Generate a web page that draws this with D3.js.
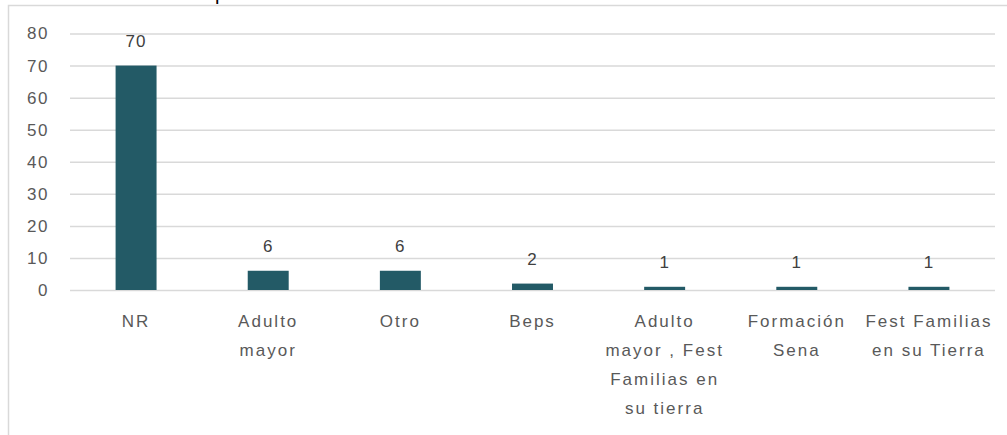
<!DOCTYPE html>
<html>
<head>
<meta charset="utf-8">
<script src="https://cdn.jsdelivr.net/npm/d3@7"></script>
<style>
    body { margin: 0; background: #ffffff; }
    svg { display: block; }
</style>
</head>
<body>
<svg id="drawing_region"></svg>
<script>
const categories = ['NR', 'Adulto mayor', 'Otro', 'Beps', 'Adulto mayor , Fest Familias en su tierra', 'Formación Sena', 'Fest Familias en su Tierra'];
const values = [70, 6, 6, 2, 1, 1, 1];
const category_lines = [
    ['NR'],
    ['Adulto', 'mayor'],
    ['Otro'],
    ['Beps'],
    ['Adulto', 'mayor , Fest', 'Familias en', 'su tierra'],
    ['Formación', 'Sena'],
    ['Fest Familias', 'en su Tierra']
];
const y_ticks = [0, 10, 20, 30, 40, 50, 60, 70, 80];

class BarChart{

    constructor(config, data){
        this.config = {
            parent: config.parent,
            width: config.width || 1007,
            height: config.height || 435,
            margin: config.margin || {top:33.5, right:12, bottom:145, left:70}
        }
        this.data = data;
        this.init();
    }

    init(){
        let self = this;

        self.svg = d3.select(self.config.parent)
            .attr('width', self.config.width)
            .attr('height', self.config.height);

        // chart area frame (cut at right / bottom)
        self.svg.append('rect')
            .attr('x', 8.5)
            .attr('y', 5.5)
            .attr('width', 1020)
            .attr('height', 450)
            .attr('fill', 'none')
            .attr('stroke', '#d9d9d9')
            .attr('stroke-width', 1.5);

        // title cut at the top edge, only a descender is left
        self.svg.append('text')
            .attr('x', 215)
            .attr('y', 0)
            .style('font-family', '"Liberation Sans", Arial, sans-serif')
            .style('font-size', '20px')
            .attr('fill', '#000000')
            .text('p');

        self.chart = self.svg.append('g')
            .attr('transform', `translate(${self.config.margin.left}, ${self.config.margin.top})`);

        self.inner_width = self.config.width - self.config.margin.left - self.config.margin.right;
        self.inner_height = self.config.height - self.config.margin.top - self.config.margin.bottom;

        self.xscale = d3.scaleBand()
            .domain(self.data.map(d => d.c))
            .range([0, self.inner_width])
            .paddingInner(0.69)
            .paddingOuter(0.345);

        self.yscale = d3.scaleLinear()
            .domain([0, 80])
            .range([self.inner_height, 0]);

        self.yaxis = d3.axisLeft( self.yscale )
            .tickValues(y_ticks)
            .tickSize(-self.inner_width)
            .tickSizeOuter(0)
            .tickPadding(21);

        self.yaxis_group = self.chart.append('g')
            .call( self.yaxis );
        self.yaxis_group.select('.domain').remove();
        self.yaxis_group.selectAll('.tick line')
            .attr('stroke', '#d9d9d9')
            .attr('stroke-width', 1.5);
        self.yaxis_group.selectAll('.tick text')
            .attr('fill', '#595959')
            .style('font-family', '"Liberation Sans", Arial, sans-serif')
            .style('font-size', '17px')
            .style('letter-spacing', '1.5px');

        self.xaxis = d3.axisBottom( self.xscale )
            .tickSize(0)
            .tickFormat('');

        self.xaxis_group = self.chart.append('g')
            .attr('transform', `translate(0, ${self.inner_height})`)
            .call( self.xaxis );
        self.xaxis_group.select('.domain').remove();

        const line_gap = 29;
        self.xaxis_group.selectAll('.tick').each(function(c, i){
            const lines = category_lines[i];
            d3.select(this).select('text')
                .attr('y', 0)
                .attr('dy', null)
                .attr('fill', '#595959')
                .style('font-family', '"Liberation Sans", Arial, sans-serif')
                .style('font-size', '17px')
                .style('letter-spacing', '2px')
                .selectAll('tspan').data(lines).enter()
                .append('tspan')
                .attr('x', 0)
                .attr('y', (d, j) => 37 + j * line_gap)
                .text(d => d);
        });

        self.render();
    }

    render(){
        let self = this;

        self.chart.selectAll('rect.bar').data(self.data).enter()
            .append('rect')
            .attr('class', 'bar')
            .attr('x', d => self.xscale(d.c))
            .attr('y', d => self.yscale(d.v))
            .attr('width', self.xscale.bandwidth())
            .attr('height', d => self.inner_height - self.yscale(d.v))
            .attr('fill', '#235a66');

        self.chart.selectAll('text.value').data(self.data).enter()
            .append('text')
            .attr('class', 'value')
            .attr('x', d => self.xscale(d.c) + self.xscale.bandwidth() / 2)
            .attr('y', d => self.yscale(d.v) - 19)
            .attr('text-anchor', 'middle')
            .attr('fill', '#404040')
            .style('font-family', '"Liberation Sans", Arial, sans-serif')
            .style('font-size', '17px')
            .style('letter-spacing', '1px')
            .text(d => d.v);
    }
}

const data = categories.map((c, i) => ({c: c, v: values[i]}));
new BarChart({parent: '#drawing_region'}, data);
</script>
</body>
</html>
